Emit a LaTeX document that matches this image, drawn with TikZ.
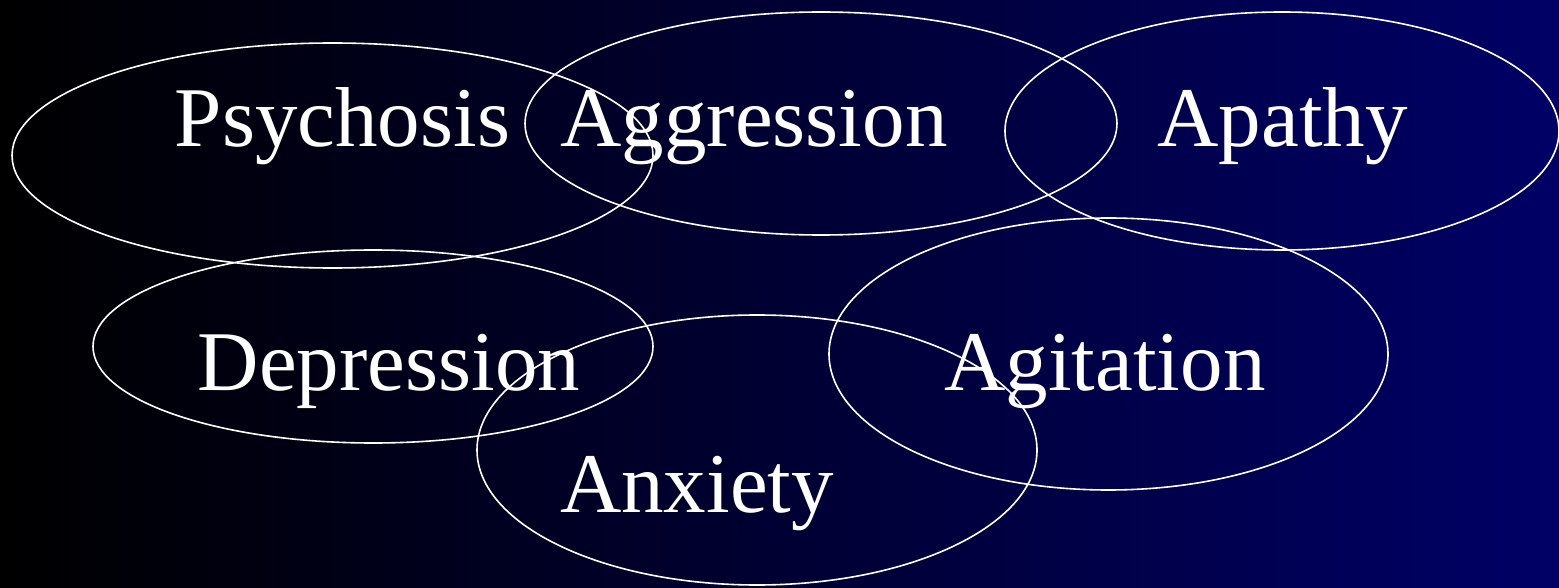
\documentclass[tikz,border=0pt]{standalone}
\usepackage{fontspec}
\setmainfont{Liberation Serif}
\usetikzlibrary{shapes.geometric}
\definecolor{navyR}{RGB}{0,0,102}
\tikzset{
  oval/.style={draw=white, line width=1.6pt, ellipse, inner sep=0pt, fill=none},
  lbl/.style={text=white, anchor=base, inner sep=0pt, font=\fontsize{85pt}{90pt}\selectfont}
}
\begin{document}
\begin{tikzpicture}[x=1pt,y=-1pt]
\shade[left color=black, right color=navyR] (0,0) rectangle (1559,588);
\useasboundingbox (0,0) rectangle (1559,588);
\node[oval, minimum width=641pt, minimum height=225pt] (epsy) at (332.5,155.5) {};
\node[oval, minimum width=592pt, minimum height=223pt] (eagg) at (821,123.5) {};
\node[oval, minimum width=554pt, minimum height=238pt] (eapa) at (1282,131) {};
\node[oval, minimum width=560pt, minimum height=193pt] (edep) at (373,346.5) {};
\node[oval, minimum width=559pt, minimum height=272pt] (eagi) at (1108.5,354) {};
\node[oval, minimum width=560pt, minimum height=270pt] (eanx) at (757,450) {};
\node[lbl] (tpsy) at (342.5,147) {Psychosis};
\node[lbl] (tagg) at (754,147) {Aggression};
\node[lbl] (tapa) at (1282.5,147) {Apathy};
\node[lbl] (tdep) at (389,390) {Depression};
\node[lbl] (tagi) at (1105,390) {Agitation};
\node[lbl] (tanx) at (697,512) {Anxiety};
\end{tikzpicture}
\end{document}
